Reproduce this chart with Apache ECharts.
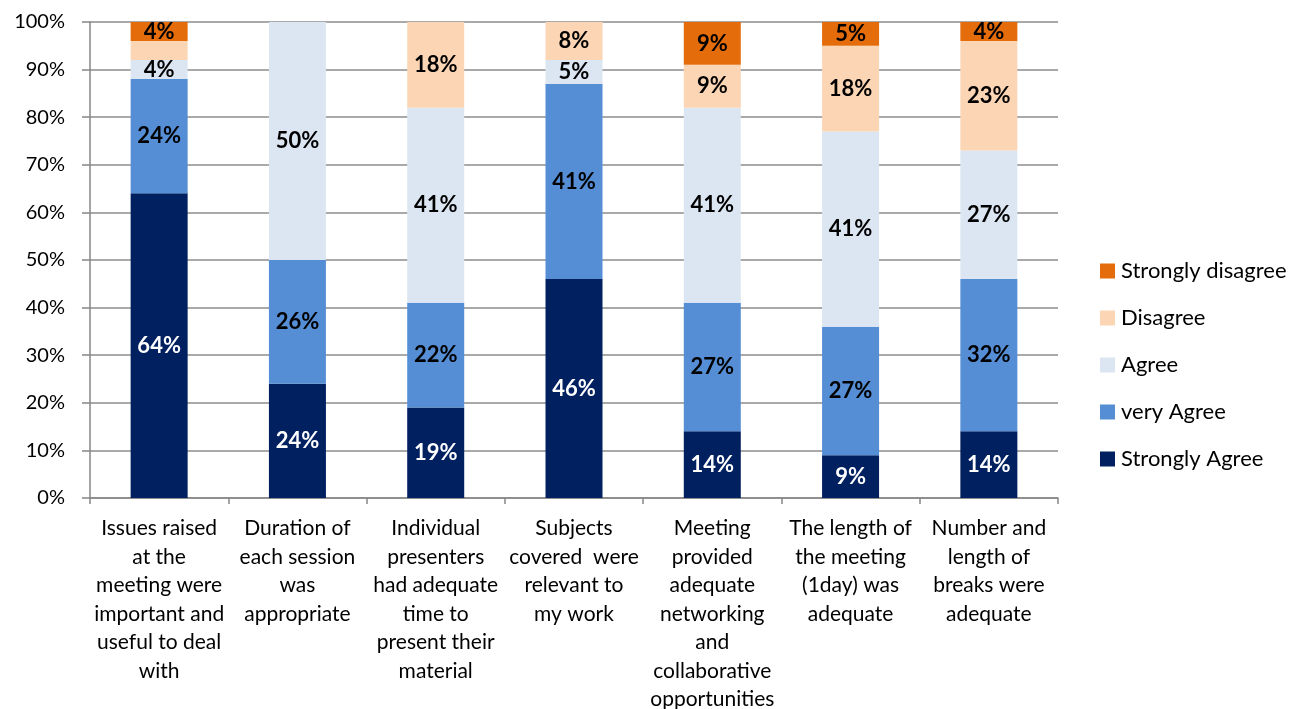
<!DOCTYPE html>
<html>
<head>
<meta charset="utf-8">
<script src="https://cdn.jsdelivr.net/npm/echarts@6/dist/echarts.min.js"></script>
<style>
html,body{margin:0;padding:0;background:#fff;}
#chart{width:1307px;height:709px;}
</style>
</head>
<body>
<div id="chart"></div>
<script>
const categories = [
  "Issues raised\nat the\nmeeting were\nimportant and\nuseful to deal\nwith",
  "Duration of\neach session\nwas\nappropriate",
  "Individual\npresenters\nhad adequate\ntime to\npresent their\nmaterial",
  "Subjects\ncovered  were\nrelevant to\nmy work",
  "Meeting\nprovided\nadequate\nnetworking\nand\ncollaborative\nopportunities",
  "The length of\nthe meeting\n(1day) was\nadequate",
  "Number and\nlength of\nbreaks were\nadequate"
];
const stronglyAgree = [64, 24, 19, 46, 14, 9, 14];
const veryAgree = [24, 26, 22, 41, 27, 27, 32];
const agree = [4, 50, 41, 5, 41, 41, 27];
const disagree = [4, 0, 18, 8, 9, 18, 23];
const stronglyDisagree = [4, 0, 0, 0, 9, 5, 4];
const disagreeUnlabelled = [0];
const yTicks = [0, 10, 20, 30, 40, 50, 60, 70, 80, 90, 100];

const FONT = 'Lato';
const chart = echarts.init(document.getElementById('chart'));

function mk(name, values, color, labelColor, hidden) {
  return {
    name: name,
    type: 'bar',
    stack: 'total',
    barWidth: 57,
    itemStyle: { color: color },
    label: {
      show: true,
      position: 'inside',
      color: labelColor,
      fontFamily: FONT,
      fontWeight: 'bold',
      fontSize: 22,
      formatter: p => p.value > 0 ? p.value + '%' : ''
    },
    data: values.map((v, i) => (hidden && hidden.indexOf(i) >= 0) ? { value: v, label: { show: false } } : v)
  };
}

chart.setOption({
  animation: false,
  backgroundColor: '#fff',
  grid: { left: 90, right: 249, top: 22, bottom: 211, outerBoundsMode: 'none', containLabel: false },
  legend: {
    orient: 'vertical',
    left: 1095,
    top: 255,
    itemWidth: 15,
    itemHeight: 15,
    itemGap: 25,
    icon: 'rect',
    textStyle: { fontFamily: FONT, fontSize: 22, color: '#000', padding: [0, 0, 0, 1] },
    data: ['Strongly disagree', 'Disagree', 'Agree', 'very Agree', 'Strongly Agree']
  },
  xAxis: {
    type: 'category',
    data: categories,
    axisLine: { lineStyle: { color: '#868686', width: 1.5 } },
    axisTick: { show: true, length: 6, lineStyle: { color: '#868686', width: 1.5 } },
    axisLabel: {
      interval: 0,
      margin: 16,
      fontFamily: FONT,
      fontSize: 21,
      lineHeight: 28.5,
      color: '#000'
    }
  },
  yAxis: {
    type: 'value',
    min: 0,
    max: 100,
    interval: 10,
    axisLine: { show: true, lineStyle: { color: '#868686', width: 1.5 } },
    axisTick: { show: true, length: 8, lineStyle: { color: '#868686', width: 1.5 } },
    splitLine: { lineStyle: { color: '#8c8c8c', width: 1.5 } },
    axisLabel: {
      margin: 25,
      fontFamily: FONT,
      fontSize: 20,
      color: '#000',
      formatter: v => yTicks.indexOf(v) >= 0 ? v + '%' : ''
    }
  },
  series: [
    mk('Strongly Agree', stronglyAgree, '#002060', '#fff'),
    mk('very Agree', veryAgree, '#558ED5', '#000'),
    mk('Agree', agree, '#DCE6F2', '#000'),
    mk('Disagree', disagree, '#FCD5B5', '#000', disagreeUnlabelled),
    mk('Strongly disagree', stronglyDisagree, '#E46C0A', '#000')
  ]
});
</script>
</body>
</html>
